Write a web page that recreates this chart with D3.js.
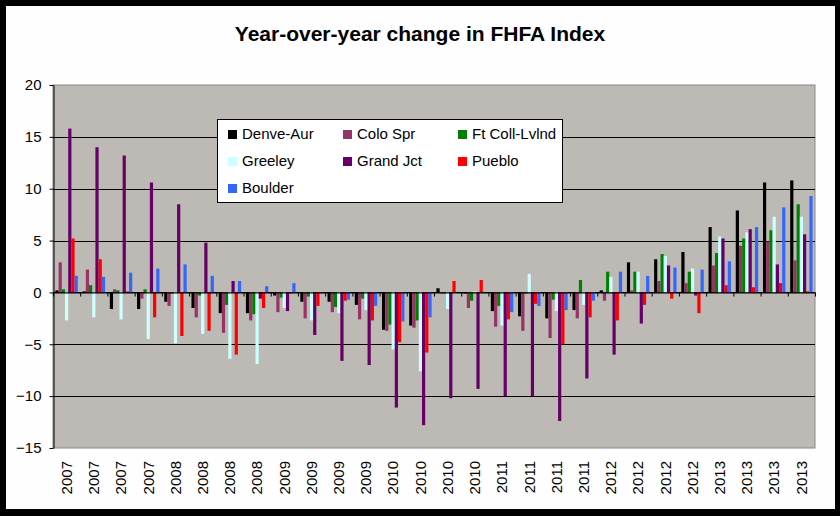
<!DOCTYPE html>
<html>
<head>
<meta charset="utf-8">
<script src="https://cdn.jsdelivr.net/npm/d3@7"></script>
<style>
  html, body { margin: 0; padding: 0; background: #000; }
  svg { display: block; font-family: "Liberation Sans", Arial, sans-serif; }
</style>
</head>
<body>
<div class="chart-container"></div>
<script>
// quarters 2007 Q1 .. 2013 Q4, labelled by year only
const quarter_labels = ['2007','2007','2007','2007','2008','2008','2008','2008',
                        '2009','2009','2009','2009','2010','2010','2010','2010',
                        '2011','2011','2011','2011','2012','2012','2012','2012',
                        '2013','2013','2013','2013'];
const series_names = ['Denve-Aur', 'Colo Spr', 'Ft Coll-Lvlnd', 'Greeley', 'Grand Jct', 'Pueblo', 'Boulder'];
const series_colors = ['#000000', '#993366', '#008000', '#ccffff', '#660066', '#ff0000', '#3366ff'];
const y_ticks = [20, 15, 10, 5, 0, -5, -10, -15];

// year-over-year % change
const denver   = [0.2, 0.1, -1.6, -1.6, -0.9, -1.5, -2.0, -2.0, -0.3, -0.9, -0.9, -1.2, -3.6, -3.2, 0.4, -0.1, -1.8, -2.3, -2.5, -1.7, 0.2, 2.9, 3.2, 3.9, 6.3, 7.9, 10.6, 10.8];
const colo_spr = [2.9, 2.2, 0.3, -0.6, -1.3, -2.4, -3.9, -2.7, -1.9, -2.5, -1.9, -2.6, -3.7, -3.4, -0.1, -1.5, -3.3, -3.7, -4.4, -2.5, -0.8, 0.2, 1.1, 0.9, 2.6, 4.5, 4.9, 3.1];
const ft_coll  = [0.3, 0.7, 0.2, 0.3, -0.1, -0.3, -1.2, -2.1, -0.5, -0.4, -1.4, -0.6, -3.1, -2.7, -0.1, -0.8, -1.3, -0.1, -0.7, 1.2, 2.0, 2.0, 3.7, 2.0, 3.8, 5.2, 6.0, 8.5];
const greeley  = [-2.7, -2.4, -2.6, -4.5, -4.9, -4.0, -6.4, -6.9, -1.5, -2.7, -2.0, -1.7, -5.5, -7.6, -1.6, 0.1, -3.2, 1.8, -1.8, -1.2, 1.5, 2.0, 3.5, 2.3, 5.4, 5.8, 7.3, 7.3];
const grand_jct = [15.8, 14.0, 13.2, 10.6, 8.5, 4.8, 1.1, -0.6, -1.8, -4.1, -6.6, -7.0, -11.1, -12.8, -10.2, -9.3, -10.0, -10.0, -12.4, -8.3, -6.0, -3.0, 2.6, -0.3, 5.2, 6.1, 2.7, 5.6];
const pueblo   = [5.2, 3.2, 0.1, -2.4, -4.2, -3.7, -6.0, -1.5, -0.1, -1.3, -0.8, -2.7, -4.8, -5.8, 1.1, 1.2, -2.6, -1.1, -5.0, -2.4, -2.7, -1.2, -0.6, -2.0, 0.7, 0.5, 0.9, 0.1];
const boulder  = [1.6, 1.5, 1.9, 2.3, 2.7, 1.6, 1.1, 0.6, 0.9, -0.1, -0.7, -1.3, -2.8, -2.4, 0.0, 0.0, -1.9, -1.3, -1.7, -0.8, 2.0, 1.6, 2.4, 2.2, 3.0, 6.3, 8.2, 9.3];

const series_values = [denver, colo_spr, ft_coll, greeley, grand_jct, pueblo, boulder];

function setup_canvas(){
    const svg_width = 840;
    const svg_height = 516;
    const plot = {left: 53, right: 815, top: 85, bottom: 448};

    const svg = d3.select('.chart-container')
                  .append('svg')
                  .attr('width', svg_width)
                  .attr('height', svg_height);

    // black frame with white card
    svg.append('rect')
       .attr('x', 0).attr('y', 0)
       .attr('width', svg_width).attr('height', svg_height)
       .style('fill', '#000');
    svg.append('rect')
       .attr('x', 6).attr('y', 6)
       .attr('width', 829).attr('height', 503)
       .style('fill', '#fefefe');

    // scales
    const idx = d3.range(quarter_labels.length);
    const x_scale = d3.scaleBand().domain(idx).range([plot.left, plot.right]).padding(0);
    // excel style gap width 150%
    const x_inner = d3.scaleBand().domain(d3.range(series_names.length))
                      .range([0, x_scale.bandwidth()])
                      .paddingInner(0).paddingOuter(0.75);
    const y_scale = d3.scaleLinear().domain([-15, 20]).range([plot.bottom, plot.top]);

    // plot area
    svg.append('rect')
       .attr('x', plot.left).attr('y', plot.top)
       .attr('width', plot.right - plot.left).attr('height', plot.bottom - plot.top)
       .style('fill', '#bdb9b4')
       .style('stroke', '#8a8784')
       .style('stroke-width', 1);

    // gridlines
    svg.append('g')
       .attr('class', 'grid')
       .selectAll('line')
       .data(y_ticks.filter(d => d !== 20 && d !== -15))
       .join('line')
       .attr('x1', plot.left).attr('x2', plot.right)
       .attr('y1', d => Math.round(y_scale(d)) + 0.5)
       .attr('y2', d => Math.round(y_scale(d)) + 0.5)
       .style('stroke', '#000')
       .style('stroke-width', 1);

    // bars
    const groups = svg.append('g')
                      .attr('class', 'bars')
                      .selectAll('g')
                      .data(series_values)
                      .join('g')
                      .style('fill', (d, i) => series_colors[i]);
    groups.each(function(values, s){
        d3.select(this).selectAll('rect')
          .data(values)
          .join('rect')
          .attr('x', (d, i) => x_scale(i) + x_inner(s))
          .attr('width', x_inner.bandwidth())
          .attr('y', d => y_scale(Math.max(0, d)))
          .attr('height', d => Math.abs(y_scale(d) - y_scale(0)));
    });

    // category axis crossing at zero, ticks at group boundaries
    const x_bound = d3.scaleLinear().domain([0, quarter_labels.length]).range([plot.left, plot.right]);
    const x_axis = d3.axisBottom(x_bound)
                     .tickValues(d3.range(0, quarter_labels.length + 1))
                     .tickFormat('')
                     .tickSizeInner(4)
                     .tickSizeOuter(0);
    svg.append('g')
       .attr('class', 'x axis')
       .attr('transform', `translate(0, ${Math.round(y_scale(0)) + 0.5})`)
       .call(x_axis)
       .call(g => g.selectAll('line, path').style('stroke', '#000'));

    // year labels at the bottom, rotated
    svg.append('g')
       .attr('class', 'x labels')
       .selectAll('text')
       .data(idx)
       .join('text')
       .attr('transform', d => `translate(${x_scale(d) + x_scale.bandwidth() / 2}, 461) rotate(-90)`)
       .attr('dy', '0.35em')
       .style('text-anchor', 'end')
       .style('font-size', '15px')
       .style('fill', '#000')
       .text(d => quarter_labels[d]);

    // value axis
    const y_axis = d3.axisLeft(y_scale)
                     .tickValues(y_ticks)
                     .tickSizeInner(4)
                     .tickSizeOuter(0)
                     .tickPadding(8);
    const y_axis_draw = svg.append('g')
                           .attr('class', 'y axis')
                           .attr('transform', `translate(${plot.left + 0.5}, 0)`)
                           .call(y_axis);
    y_axis_draw.selectAll('line, path').style('stroke', '#000');
    y_axis_draw.selectAll('text')
               .style('font-size', '15px')
               .style('font-family', '"Liberation Sans", Arial, sans-serif')
               .style('fill', '#000');

    // title
    svg.append('text')
       .attr('x', 420).attr('y', 41)
       .style('text-anchor', 'middle')
       .style('font-size', '21px')
       .style('font-weight', 'bold')
       .style('fill', '#000')
       .text('Year-over-year change in FHFA Index');

    // legend
    const legend = svg.append('g').attr('class', 'legend');
    legend.append('rect')
          .attr('x', 217.5).attr('y', 119.5)
          .attr('width', 345).attr('height', 83)
          .style('fill', '#fff')
          .style('stroke', '#000');
    const col_x = [228, 343, 458];
    const row_y = [139, 166, 193];
    const items = legend.selectAll('.legend-item')
                        .data(series_names)
                        .join('g')
                        .attr('class', 'legend-item')
                        .attr('transform', (d, i) => `translate(${col_x[i % 3]}, ${row_y[Math.floor(i / 3)]})`);
    items.append('rect')
         .attr('x', 0).attr('y', -9)
         .attr('width', 9).attr('height', 9)
         .style('fill', (d, i) => series_colors[i]);
    items.append('text')
         .attr('x', 14).attr('y', 0)
         .style('font-size', '15px')
         .style('fill', '#000')
         .text(d => d);
}

setup_canvas();
</script>
</body>
</html>
